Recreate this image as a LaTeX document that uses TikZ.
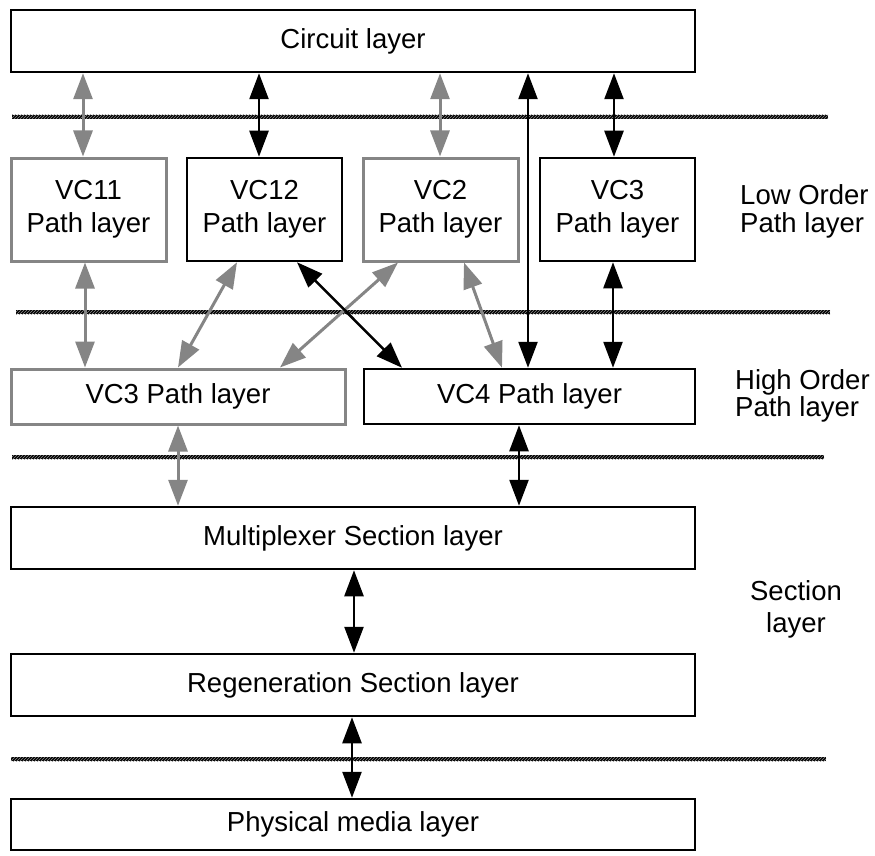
\documentclass[tikz,border=0pt]{standalone}
\usepackage{fontspec}
\setmainfont{Liberation Sans}
\usetikzlibrary{arrows.meta,patterns}
\begin{document}
\begin{tikzpicture}[x=1pt,y=-1pt,
  txt/.style={font=\fontsize{27.5}{33}\selectfont},
  blackbox/.style={draw=black,line width=2.5pt,fill=white,inner sep=0pt,align=center,txt},
  greybox/.style={draw=black!48,line width=3pt,fill=white,inner sep=0pt,align=center,txt},
  lowbox/.style={minimum width=155pt,minimum height=103pt},
  highbox/.style={minimum height=55pt},
  widebox/.style={minimum width=684pt,minimum height=62pt},
  tip/.tip={Triangle[length=26pt,width=19pt]},
  barr/.style={draw=black,line width=2.5pt,tip-tip},
  garr/.style={draw=black!48,line width=3pt,tip-tip},
  sepline/.style={fill=black},
  sephatch/.style={pattern=north east lines,pattern color=black!45},
  lbl/.style={txt,inner sep=0pt}
]
\useasboundingbox (0,0) rectangle (875,856);

% separators
\foreach \ya/\xa/\xb in {117/12/828, 312/16/830, 457/12/824, 759/11/826}{
  \fill[sepline] (\xa,\ya-2) rectangle (\xb,\ya+2);
  \fill[sephatch] (\xa,\ya-2) rectangle (\xb,\ya+2);
}

% boxes
\node[blackbox,widebox] (circ) at (353,41) {Circuit layer};
\node[greybox,lowbox] (vc11) at (88.5,209.5) {VC11\\Path layer};
\node[blackbox,lowbox] (vc12) at (264.5,209.5) {VC12\\Path layer};
\node[greybox,lowbox] (vc2) at (440.5,209.5) {VC2\\Path layer};
\node[blackbox,lowbox] (vc3l) at (617.5,209.5) {VC3\\Path layer};
\node[greybox,highbox,minimum width=334pt] (vc3h) at (178,396.5) {VC3 Path layer};
\node[blackbox,highbox,minimum width=331pt] (vc4) at (529.5,396.5) {VC4 Path layer};
\node[blackbox,widebox] (mux) at (353,538) {Multiplexer Section layer};
\node[blackbox,widebox] (regen) at (353,685) {Regeneration Section layer};
\node[blackbox,minimum width=684pt,minimum height=51pt] (phys) at (353,824.5) {Physical media layer};

% side labels
\node[lbl,anchor=base west] (lo1) at (740,204) {Low Order};
\node[lbl,anchor=base west] (lo2) at (740,232) {Path layer};
\node[lbl,anchor=base west] (ho1) at (735,389) {High Order};
\node[lbl,anchor=base west] (ho2) at (735,416) {Path layer};
\node[lbl,anchor=base] (se1) at (796,600) {Section};
\node[lbl,anchor=base] (se2) at (796,632) {layer};

% circuit <-> low order
\draw[garr] ([xshift=-5.5pt]vc11.north |- circ.south) -- ([xshift=-5.5pt]vc11.north);
\draw[barr] ([xshift=-5.5pt]vc12.north |- circ.south) -- ([xshift=-5.5pt]vc12.north);
\draw[garr] ([xshift=-0.5pt]vc2.north |- circ.south) -- ([xshift=-0.5pt]vc2.north);
\draw[barr] ([xshift=-3.5pt]vc3l.north |- circ.south) -- ([xshift=-3.5pt]vc3l.north);
\draw[barr] ([xshift=-1.5pt]vc4.north |- circ.south) -- ([xshift=-1.5pt]vc4.north);

% low order <-> high order
\draw[garr] ([xshift=-3.5pt]vc11.south) -- ([xshift=-3.5pt]vc11.south |- vc3h.north);
\draw[garr] ([xshift=-27.5pt]vc12.south) -- (vc3h.north);
\draw[garr] ([xshift=-42.5pt]vc2.south) -- ([xshift=102pt]vc3h.north);
\draw[barr] ([xshift=32.5pt]vc12.south) -- ([xshift=-127.5pt]vc4.north);
\draw[garr] ([xshift=23.5pt]vc2.south) -- ([xshift=-27.5pt]vc4.north);
\draw[barr] ([xshift=-4.5pt]vc3l.south) -- ([xshift=-4.5pt]vc3l.south |- vc4.north);

% high order <-> section
\draw[garr] (vc3h.south) -- (vc3h.south |- mux.north);
\draw[barr] ([xshift=-10.5pt]vc4.south) -- ([xshift=-10.5pt]vc4.south |- mux.north);
\draw[barr] ([xshift=1pt]mux.south) -- ([xshift=1pt]mux.south |- regen.north);
\draw[barr] ([xshift=-1pt]regen.south) -- ([xshift=-1pt]regen.south |- phys.north);
\end{tikzpicture}
\end{document}
